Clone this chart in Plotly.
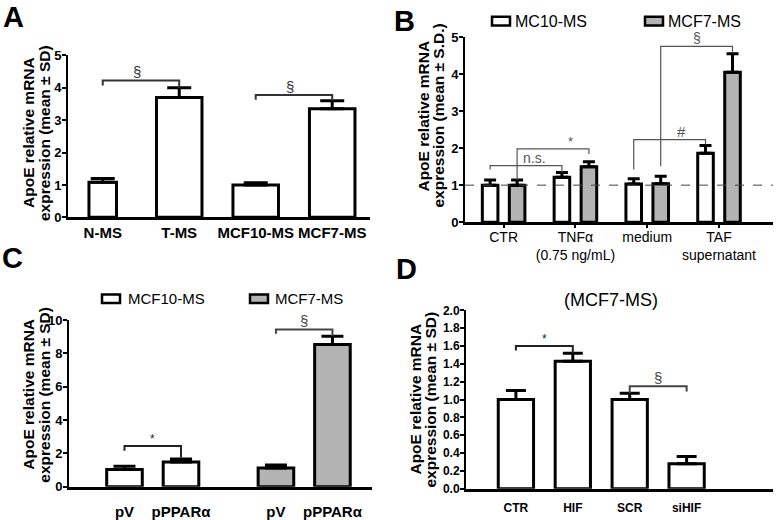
import plotly.graph_objects as go

W, H = 777, 520
FONT = "Arial, 'Liberation Sans', sans-serif"

# ---------------- data ----------------
A_CATS = ["N-MS", "T-MS", "MCF10-MS", "MCF7-MS"]
A_MEAN = [1.08, 3.70, 1.00, 3.35]
A_SD = [0.12, 0.30, 0.07, 0.25]

B_CATS = ["CTR", "TNFα<br>(0.75 ng/mL)", "medium", "TAF<br>supernatant"]
B_SERIES = ["MC10-MS", "MCF7-MS"]
B_MC10_MEAN = [1.00, 1.21, 1.03, 1.86]
B_MC10_SD = [0.14, 0.13, 0.14, 0.21]
B_MCF7_MEAN = [1.00, 1.50, 1.04, 4.05]
B_MCF7_SD = [0.14, 0.13, 0.20, 0.50]

C_CATS = ["pV", "pPPARα"]
C_SERIES = ["MCF10-MS", "MCF7-MS"]
C_MCF10_MEAN = [1.04, 1.48]
C_MCF10_SD = [0.19, 0.19]
C_MCF7_MEAN = [1.13, 8.54]
C_MCF7_SD = [0.17, 0.49]

D_TITLE = "(MCF7-MS)"
D_CATS = ["CTR", "HIF", "SCR", "siHIF"]
D_MEAN = [1.00, 1.43, 1.00, 0.28]
D_SD = [0.10, 0.09, 0.07, 0.08]

Y_TITLE_SD = ["ApoE relative mRNA", "expression (mean \u00b1 SD)"]
Y_TITLE_SDD = ["ApoE relative mRNA", "expression (mean \u00b1 S.D.)"]

# ---------------- layout helpers ----------------
def px(x):
    return x / W


def py(y):
    return 1 - y / H


WHITE = "white"
GRAY = "#b3b3b3"
B_OFF = 0.188      # half distance between paired bars in panel B
C_GAP = 0.68       # extra gap between the two groups in panel C

fig = go.Figure()


def bars(xs, ys, sd, fill, width, ax, cap):
    return go.Bar(
        x=xs, y=ys, width=width,
        marker=dict(color=fill, line=dict(color="black", width=3)),
        error_y=dict(type="data", array=sd, arrayminus=[0] * len(sd),
                     symmetric=False, color="black", thickness=3, width=cap),
        xaxis="x" + ax, yaxis="y" + ax, showlegend=False,
        hoverinfo="skip",
    )


idxA = list(range(len(A_CATS)))
fig.add_trace(bars(idxA, A_MEAN, A_SD, WHITE, [0.36, 0.595, 0.595, 0.595], "", 12))

idxB = list(range(len(B_CATS)))
xB1 = [i - B_OFF for i in idxB]
xB2 = [i + B_OFF for i in idxB]
fig.add_trace(bars(xB1, B_MC10_MEAN, B_MC10_SD, WHITE, 0.217, "2", 6))
fig.add_trace(bars(xB2, B_MCF7_MEAN, B_MCF7_SD, GRAY, 0.217, "2", 6))

xC1 = list(range(len(C_CATS)))
xC2 = [len(C_CATS) + C_GAP + i for i in range(len(C_CATS))]
fig.add_trace(bars(xC1, C_MCF10_MEAN, C_MCF10_SD, WHITE, 0.63, "3", 11))
fig.add_trace(bars(xC2, C_MCF7_MEAN, C_MCF7_SD, GRAY, 0.63, "3", 11))

idxD = list(range(len(D_CATS)))
fig.add_trace(bars(idxD, D_MEAN, D_SD, WHITE, 0.62, "4", 10))


def tick_bold(size):
    return dict(family=FONT, size=size, color="black", weight="bold")


def xaxis(x0, x1, rng, vals, text, font, anchor, ticks="", standoff=0):
    return dict(domain=[px(x0), px(x1)], range=rng, tickvals=vals, ticktext=text,
                showline=True, linecolor="black", linewidth=2.5, ticks=ticks,
                ticklen=3, tickwidth=1.5, tickcolor="black", tickfont=font,
                ticklabelstandoff=standoff,
                showgrid=False, zeroline=False, anchor=anchor, fixedrange=True)


def yaxis(y0, y1, rng, dtick, anchor, size=13, fmt=None):
    d = dict(domain=[py(y0), py(y1)], range=rng, dtick=dtick, tick0=0,
             showline=True, linecolor="black", linewidth=2, ticks="outside",
             ticklen=4, tickwidth=2, tickcolor="black", tickfont=tick_bold(size),
             ticklabelstandoff=-2,
             showgrid=False, zeroline=False, anchor=anchor, fixedrange=True)
    if fmt:
        d["tickformat"] = fmt
    return d


fig.update_layout(
    width=W, height=H, margin=dict(l=0, r=0, t=0, b=0), autosize=False,
    plot_bgcolor="white", paper_bgcolor="white", barmode="overlay",
    showlegend=False, font=dict(family=FONT, color="black"),
    xaxis=xaxis(68, 370, [-0.454, 3.494], idxA, A_CATS, tick_bold(15), "y"),
    yaxis=yaxis(217, 50, [0, 5], 1, "x"),
    xaxis2=xaxis(465, 773, [-0.538, 3.752], idxB, B_CATS,
                 dict(family=FONT, size=14, color="black"), "y2",
                 ticks="outside", standoff=-3),
    yaxis2=yaxis(222, 31, [0, 5], 1, "x2"),
    xaxis3=xaxis(69, 372, [-0.982, 4.38], xC1 + xC2, C_CATS + C_CATS,
                 tick_bold(15), "y3", standoff=9),
    yaxis3=yaxis(495, 323, [0, 10], 2, "x3"),
    xaxis4=xaxis(466, 773, [-0.877, 4.518], idxD, D_CATS, tick_bold(12), "y4",
                 standoff=6),
    yaxis4=yaxis(497, 313, [0, 2], 0.2, "x4", size=12, fmt=".1f"),
)

# ---------------- significance brackets ----------------
# (axis, x_left, x_right, y_top, y_left_end, y_right_end, label, label_pos, color, lw, size)
BRACKETS = [
    ("", idxA[0], idxA[1], 4.23, 4.07, 4.00, "§", 0.45, "#333", 2, 15),
    ("", idxA[2], idxA[3], 3.78, 3.63, 3.60, "§", 0.45, "#333", 2, 15),
    ("2", xB1[0], xB1[1], 1.53, 1.42, 1.34, "n.s.", 0.62, "#555", 1.2, 14),
    ("2", xB2[0], xB2[1], 1.98, 1.14, 1.84, "*", 0.75, "#555", 1.2, 13),
    ("2", xB1[2], xB1[3], 2.23, 1.42, 2.10, "#", 0.66, "#555", 1.2, 15),
    ("2", xB2[2], xB2[3], 4.75, 1.51, 4.60, "§", 0.5, "#555", 1.2, 14),
    ("3", xC1[0], xC1[1], 2.45, 2.16, 1.75, "*", 0.5, "#222", 2, 12),
    ("3", xC2[0], xC2[1], 9.44, 9.18, 9.05, "§", 0.5, "#444", 2, 15),
    ("4", idxD[0], idxD[1], 1.60, 1.55, 1.52, "*", 0.5, "#222", 2, 12),
    ("4", idxD[2], idxD[3], 1.15, 1.07, 1.09, "§", 0.5, "#444", 2, 15),
]
for ax, xl, xr, yt, yl, yr, lab, pos, col, lw, fs in BRACKETS:
    fig.add_shape(type="path", xref="x" + ax, yref="y" + ax,
                  path=f"M {xl},{yl} L {xl},{yt} L {xr},{yt} L {xr},{yr}",
                  line=dict(color=col, width=lw))
    fig.add_annotation(x=xl + pos * (xr - xl), y=yt, xref="x" + ax, yref="y" + ax,
                       text=lab, showarrow=False, yanchor="bottom", yshift=-2,
                       font=dict(family=FONT, size=fs, color=col))

# dashed reference line in B
fig.add_shape(type="line", xref="x2", yref="y2", x0=-0.538, x1=3.752, y0=1, y1=1,
              line=dict(color="#444", width=1, dash="dash"), layer="above")

# ---------------- axis titles ----------------
def ytitle(lines, x1, x2, yc, size=15.5):
    for t, xc in zip(lines, (x1, x2)):
        fig.add_annotation(x=px(xc), y=py(yc), xref="paper", yref="paper",
                           text=t, textangle=-90, showarrow=False,
                           xanchor="center", yanchor="middle",
                           font=dict(family=FONT, size=size, color="black",
                                     weight="bold"))


ytitle(Y_TITLE_SD, 28, 44, 130)
ytitle(Y_TITLE_SDD, 424, 439, 112)
ytitle(Y_TITLE_SD, 29, 45, 400)
ytitle(Y_TITLE_SD, 416, 431, 405)

# ---------------- panel letters ----------------
for lab, xc, yc in [("A", 13, 10), ("B", 405, 14), ("C", 12, 259), ("D", 406, 270)]:
    fig.add_annotation(x=px(xc), y=py(yc), xref="paper", yref="paper", text=lab,
                       showarrow=False, xanchor="center", yanchor="middle",
                       font=dict(family=FONT, size=29, color="black", weight="bold"))

# D title
fig.add_annotation(x=px(611), y=py(302), xref="paper", yref="paper", text=D_TITLE,
                   showarrow=False, xanchor="center", yanchor="middle",
                   font=dict(family=FONT, size=18, color="black"))

# ---------------- legends (B and C) ----------------
def legend_item(x0, x1, yc, fill, text, tx, size):
    fig.add_shape(type="rect", xref="paper", yref="paper",
                  x0=px(x0), x1=px(x1), y0=py(yc + 4.5), y1=py(yc - 4.5),
                  fillcolor=fill, line=dict(color="black", width=2.5))
    fig.add_annotation(x=px(tx), y=py(yc), xref="paper", yref="paper", text=text,
                       showarrow=False, xanchor="left", yanchor="middle",
                       font=dict(family=FONT, size=size, color="black"))


legend_item(492, 510, 14.5, WHITE, B_SERIES[0], 513, 16)
legend_item(645, 663, 14.5, GRAY, B_SERIES[1], 666, 16)
legend_item(102, 120, 301, WHITE, C_SERIES[0], 126, 15)
legend_item(250, 268, 301, GRAY, C_SERIES[1], 273, 15)

fig.write_html("out.html",
               config={"displayModeBar": False},
               post_script="document.body.style.margin='0';"
                           "document.documentElement.style.margin='0';")
